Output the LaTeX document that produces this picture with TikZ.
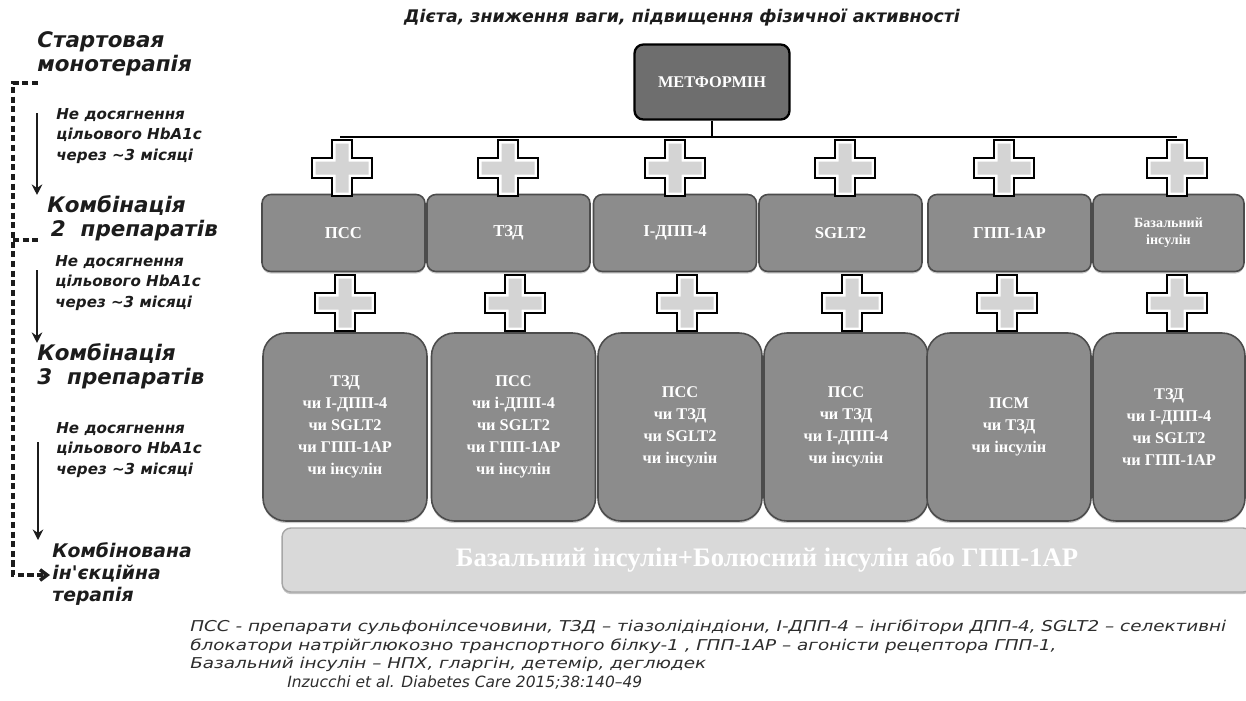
\documentclass[tikz,border=0pt]{standalone}
\usepackage{fontspec}
\setmainfont{Liberation Serif}
\newfontfamily\labelfont{DejaVu Sans}
\newfontfamily\notefont[FakeStretch=1.23]{DejaVu Sans}
\usetikzlibrary{positioning,arrows.meta,shadows}

\definecolor{boxgray}{RGB}{140,140,140}
\definecolor{metgray}{RGB}{110,110,110}
\definecolor{crossgray}{RGB}{212,212,212}
\definecolor{bargray}{RGB}{217,217,217}
\definecolor{inkgray}{RGB}{28,28,28}
\definecolor{notegray}{RGB}{45,45,45}

\tikzset{
  metbox/.style={draw=black, line width=1.3pt, fill=metgray, rounded corners=5pt,
    minimum width=3.1cm, minimum height=1.5cm, text=white,
    font=\bfseries\fontsize{9.3}{10}\selectfont},
  drugbox/.style={draw=black!70, line width=0.9pt, fill=boxgray, rounded corners=5pt,
    minimum width=3.26cm, minimum height=1.54cm, text=white, align=center,
    font=\bfseries\fontsize{9.5}{11}\selectfont,
    drop shadow={shadow xshift=0pt, shadow yshift=-1.2pt, opacity=0.4}},
  combobox/.style={drugbox, rounded corners=13pt, minimum width=3.28cm, minimum height=3.76cm,
    font=\bfseries\fontsize{9.3}{12.5}\selectfont},
  insbar/.style={draw=black!35, line width=0.8pt, fill=bargray, rounded corners=5pt,
    minimum width=19.4cm, minimum height=1.28cm, text=white,
    font=\bfseries\fontsize{15.2}{17}\selectfont,
    drop shadow={shadow xshift=0pt, shadow yshift=-1.2pt, opacity=0.45}},
  steplabel/.style={anchor=west, align=left, inner sep=0pt, text=inkgray,
    font=\labelfont\bfseries\itshape\fontsize{12.2}{13.6}\selectfont},
  faillabel/.style={steplabel, font=\labelfont\bfseries\itshape\fontsize{8.6}{11.9}\selectfont},
  notetext/.style={anchor=west, align=left, inner sep=0pt, text=notegray,
    font=\notefont\itshape\fontsize{8.5}{10.5}\selectfont},
  dashline/.style={dash pattern=on 3.5pt off 2pt, line width=2pt, inkgray},
  downarrow/.style={line width=1.2pt, inkgray, -{Stealth[length=6pt,width=6pt,inset=2pt]}},
  pluscross/.pic={
    \draw[line width=1.3pt, fill=white] (-10,-28) -- (10,-28) -- (10,-10) -- (30,-10)
      -- (30,10) -- (10,10) -- (10,28) -- (-10,28) -- (-10,10) -- (-30,10)
      -- (-30,-10) -- (-10,-10) -- cycle;
    \fill[crossgray] (-6.5,-24.5) -- (6.5,-24.5) -- (6.5,-6.5) -- (26.5,-6.5)
      -- (26.5,6.5) -- (6.5,6.5) -- (6.5,24.5) -- (-6.5,24.5) -- (-6.5,6.5)
      -- (-26.5,6.5) -- (-26.5,-6.5) -- (-6.5,-6.5) -- cycle;
  }
}

\begin{document}
\begin{tikzpicture}[x=0.02cm, y=-0.02cm]
    \useasboundingbox[fill=white] (0,0) rectangle (1246,700);

    % title
    \node[steplabel, anchor=center, font=\labelfont\bfseries\itshape\fontsize{9.9}{11}\selectfont]
      (title) at (682,18) {Дієта, зниження ваги, підвищення фізичної активності};

    % metformin
    \node[metbox] (met) at (712,82) {МЕТФОРМІН};
    \coordinate (hl) at (340,137);
    \coordinate (hr) at (1177,137);
    \draw[line width=1.6pt] (met.south) -- (met.south |- hl);
    \draw[line width=1.6pt] (hl) -- (hr);

    % row 2
    \node[drugbox] (b1) at (343.5,233) {ПСС};
    \node[drugbox] (b2) at (508.5,233) {ТЗД};
    \node[drugbox] (b3) at (675,233) {І-ДПП-4};
    \node[drugbox] (b4) at (840.5,233) {SGLT2};
    \node[drugbox] (b5) at (1009.5,233) {ГПП-1АР};
    \node[drugbox, minimum width=3.02cm, font=\bfseries\fontsize{8}{9.5}\selectfont]
      (b6) at (1168.5,233) {Базальний\\інсулін};

    % row 3
    \node[combobox] (c1) at (345,427) {ТЗД\\чи І-ДПП-4\\чи SGLT2\\чи ГПП-1АР\\чи інсулін};
    \node[combobox] (c2) at (513.5,427) {ПСС\\чи і-ДПП-4\\чи SGLT2\\чи ГПП-1АР\\чи інсулін};
    \node[combobox] (c3) at (680,427) {ПСС\\чи ТЗД\\чи SGLT2\\чи інсулін};
    \node[combobox] (c4) at (846,427) {ПСС\\чи ТЗД\\чи І-ДПП-4\\чи інсулін};
    \node[combobox] (c5) at (1009,427) {ПСМ\\чи ТЗД\\чи інсулін};
    \node[combobox, minimum width=3.04cm] (c6) at (1169,427) {ТЗД\\чи І-ДПП-4\\чи SGLT2\\чи ГПП-1АР};

    % insulin bar
    \node[insbar] (bar) at (767,560) {Базальний інсулін+Болюсний інсулін або ГПП-1АР};

    % crosses, top
    \pic at (342,168) {pluscross};
    \pic at (508,168) {pluscross};
    \pic at (675,168) {pluscross};
    \pic at (845,168) {pluscross};
    \pic at (1004,168) {pluscross};
    \pic at (1177,168) {pluscross};
    % crosses, bottom
    \pic at (345,303) {pluscross};
    \pic at (515,303) {pluscross};
    \pic at (687,303) {pluscross};
    \pic at (852,303) {pluscross};
    \pic at (1007,303) {pluscross};
    \pic at (1177,303) {pluscross};

    % left column
    \node[steplabel] (start) at (37,54) {Стартовая\\монотерапія};
    \node[faillabel] (fail1) at (56,136) {Не досягнення\\цільового HbA1c\\через \textasciitilde3 місяці};
    \node[steplabel] (combo2) at (47,218) {Комбінація\\\hspace{2pt}2~~препаратів};
    \node[faillabel] (fail2) at (55,283) {Не досягнення\\цільового HbA1c\\через \textasciitilde3 місяці};
    \node[steplabel] (combo3) at (37,366) {Комбінація\\3~~препаратів};
    \node[faillabel] (fail3) at (56,450) {Не досягнення\\цільового HbA1c\\через \textasciitilde3 місяці};
    \node[steplabel, font=\labelfont\bfseries\itshape\fontsize{10.7}{12.8}\selectfont]
      (inject) at (52,574) {Комбінована\\ін'єкційна\\терапія};

    % arrows
    \coordinate (a1) at (37,113);
    \coordinate (a2) at (37,270);
    \coordinate (a3) at (38,442);
    \draw[downarrow] (a1) -- (a1 |- combo2.north);
    \draw[downarrow] (a2) -- (a2 |- combo3.north);
    \draw[downarrow] (a3) -- (38,540);

    % dashed return line
    \coordinate (dtop) at (38,83);
    \coordinate (dmid) at (40,240);
    \coordinate (dend) at (50,575);
    \draw[dashline, -{Straight Barb[length=4pt,width=6pt]}] (dtop) -- (13,83) -- (13,575) -- (dend);
    \draw[dashline] (13,240) -- (dmid);

    % footnote
    \node[notetext] (note) at (190,646) {ПСС - препарати сульфонілсечовини, ТЗД – тіазолідіндіони, І-ДПП-4 – інгібітори ДПП-4, SGLT2 – селективні\\блокатори натрійглюкозно транспортного білку-1 , ГПП-1АР – агоністи рецептора ГПП-1,\\Базальний інсулін – НПХ, гларгін, детемір, деглюдек};
    \node[notetext, font=\labelfont\itshape\fontsize{8.8}{10.5}\selectfont] (cite) at (287,683) {Inzucchi et al. Diabetes Care 2015;38:140–49};
\end{tikzpicture}
\end{document}
